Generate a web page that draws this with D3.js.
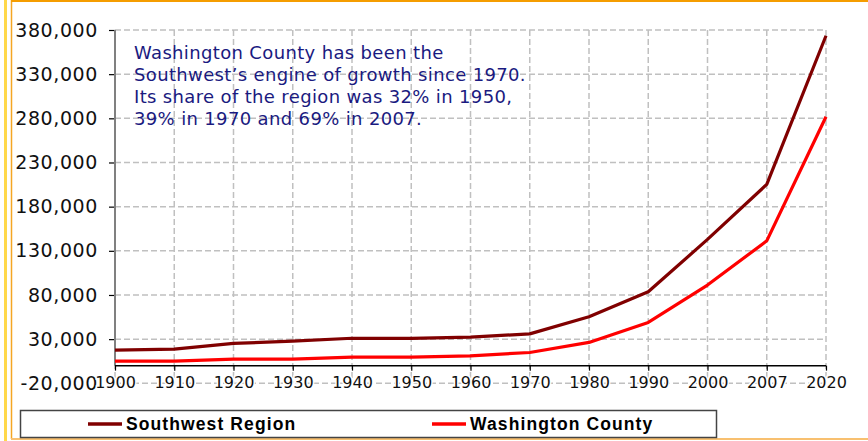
<!DOCTYPE html>
<html>
<head>
<meta charset="utf-8">
<script src="https://cdn.jsdelivr.net/npm/d3@7"></script>
<style>
  html, body { margin: 0; padding: 0; background: #fff; }
  svg { display: block; }
</style>
</head>
<body>
<svg id="chart" width="868" height="441"></svg>
<script>
const years = ["1900","1910","1920","1930","1940","1950","1960","1970","1980","1990","2000","2007","2020"];
const southwest = [17500, 18700, 25100, 27700, 31000, 30800, 32300, 36000, 55300, 83600, 142900, 205200, 373500];
const washington = [5100, 5100, 7400, 7400, 9600, 9600, 11100, 14900, 26300, 48900, 91200, 141300, 281800];
const yTicks = [-20000, 30000, 80000, 130000, 180000, 230000, 280000, 330000, 380000];
const seriesNames = ["Southwest Region", "Washington County"];
const seriesColors = ["#800000", "#ff0000"];
const noteLines = [
  "Washington County has been the",
  "Southwest\u2019s engine of growth since 1970.",
  "Its share of the region was 32% in 1950,",
  "39% in 1970 and 69% in 2007."
];

(function () {
const svg = d3.select("#chart");
const pL = 115, pR = 826, pT = 30, pB = 383.3;

const x = d3.scalePoint().domain(years).range([pL, pR]);
const y = d3.scaleLinear().domain([-20000, 380000]).range([pB, pT]);

// outer frame
svg.append("line").attr("x1", 5.5).attr("x2", 5.5).attr("y1", 0).attr("y2", 441)
  .attr("stroke", "#ffd84a").attr("stroke-width", 3);
svg.append("line").attr("x1", 11.5).attr("x2", 11.5).attr("y1", 0).attr("y2", 439)
  .attr("stroke", "#f5a623").attr("stroke-width", 1.5);
svg.append("line").attr("x1", 11).attr("x2", 868).attr("y1", 1).attr("y2", 1)
  .attr("stroke", "#f59d00").attr("stroke-width", 2);
svg.append("line").attr("x1", 11).attr("x2", 868).attr("y1", 439).attr("y2", 439)
  .attr("stroke", "#f8c070").attr("stroke-width", 2);

const grid = svg.append("g");
grid.selectAll("line.h").data(yTicks).join("line").attr("class", "h")
  .attr("x1", pL).attr("x2", pR)
  .attr("y1", d => y(d)).attr("y2", d => y(d))
  .attr("stroke", "#c0c0c0").attr("stroke-width", 1.5).attr("stroke-dasharray", "6,3");
grid.selectAll("line.v").data(years).join("line").attr("class", "v")
  .attr("x1", d => x(d)).attr("x2", d => x(d))
  .attr("y1", pT).attr("y2", pB)
  .attr("stroke", "#c0c0c0").attr("stroke-width", 1.5).attr("stroke-dasharray", "6,3");

// annotation
const note = svg.append("text")
  .attr("font-family", "Verdana, 'DejaVu Sans', sans-serif")
  .attr("font-size", 18).attr("letter-spacing", 0.35).attr("fill", "#1a1a80");
noteLines.forEach((t, i) => {
  note.append("tspan").attr("x", 134).attr("y", 59 + i * 22).text(t);
});

// y axis
const fmt = d3.format(",");
const yAxis = d3.axisLeft(y).tickValues(yTicks).tickSize(6).tickPadding(10)
  .tickFormat(d => fmt(d).replace("\u2212", "-"));
const gy = svg.append("g").attr("transform", `translate(${pL},0)`).call(yAxis);
gy.select(".domain").remove();
gy.selectAll(".tick line").attr("stroke", "#000").attr("stroke-width", 1.2);
gy.selectAll(".tick text")
  .attr("font-family", "'DejaVu Sans', Verdana, sans-serif")
  .attr("font-size", 19).attr("letter-spacing", 0.6).attr("fill", "#111")
  .attr("x", -17);
svg.append("line").attr("x1", pL).attr("x2", pL).attr("y1", pT).attr("y2", y(0))
  .attr("stroke", "#808080").attr("stroke-width", 2);

// x axis at zero
const xAxis = d3.axisBottom(x).tickSize(5).tickPadding(8);
const gx = svg.append("g").attr("transform", `translate(0,${y(0)})`).call(xAxis);
gx.select(".domain").attr("stroke", "#000").attr("stroke-width", 1.5).attr("d", `M${pL},0H${pR}`);
gx.selectAll(".tick line").attr("stroke", "#000").attr("stroke-width", 1.2);
gx.selectAll(".tick text")
  .attr("font-family", "'DejaVu Sans', Verdana, sans-serif")
  .attr("font-size", 16).attr("fill", "#111")
  .attr("y", 11).attr("dy", "0.71em")
  .attr("stroke", "#fff").attr("stroke-width", 3).attr("paint-order", "stroke");

// lines
const line = d3.line().x((d, i) => x(years[i])).y(d => y(d));
[southwest, washington].forEach((s, k) => {
  svg.append("path").datum(s)
    .attr("d", line)
    .attr("fill", "none")
    .attr("stroke", seriesColors[k])
    .attr("stroke-width", 3.2)
    .attr("stroke-linejoin", "round");
});

// legend
const lg = svg.append("g");
lg.append("rect").attr("x", 20.5).attr("y", 410.5).attr("width", 696).attr("height", 27)
  .attr("fill", "#fff").attr("stroke", "#444").attr("stroke-width", 1.5);
const legendX = [88, 432];
seriesNames.forEach((n, k) => {
  lg.append("line").attr("x1", legendX[k]).attr("x2", legendX[k] + 34)
    .attr("y1", 424).attr("y2", 424)
    .attr("stroke", seriesColors[k]).attr("stroke-width", 3.5);
  lg.append("text").attr("x", legendX[k] + 38).attr("y", 430)
    .attr("font-family", "'Liberation Sans', Arial, sans-serif")
    .attr("font-weight", "bold").attr("font-size", 17.5).attr("letter-spacing", 1.1)
    .attr("fill", "#000").text(n);
});
})();
</script>
</body>
</html>
